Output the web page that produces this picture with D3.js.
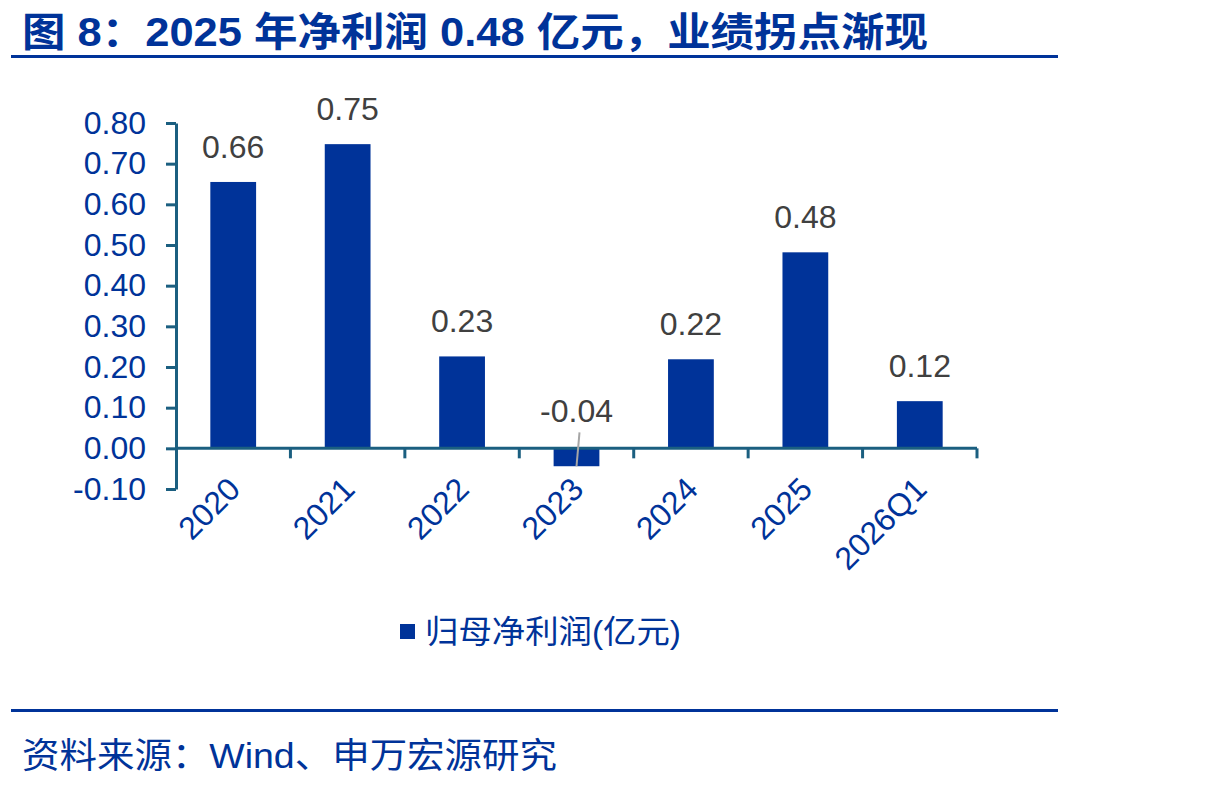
<!DOCTYPE html>
<html>
<head>
<meta charset="utf-8">
<script src="https://cdn.jsdelivr.net/npm/d3@7"></script>
<style>
  body { margin: 0; background: #fff; }
  svg text { font-family: Arial, "Liberation Sans", "Noto Sans CJK SC", sans-serif; }
</style>
</head>
<body>
<svg id="chart" width="1227" height="787"></svg>
<script>
// data
const categories = ["2020", "2021", "2022", "2023", "2024", "2025", "2026Q1"];
const profit = [0.655, 0.748, 0.226, -0.044, 0.219, 0.482, 0.116];
const profitLabels = ["0.66", "0.75", "0.23", "-0.04", "0.22", "0.48", "0.12"];
const yTicks = [-0.1, 0, 0.1, 0.2, 0.3, 0.4, 0.5, 0.6, 0.7, 0.8];
const seriesName = "归母净利润(亿元)";
const titleText = "图 8：2025 年净利润 0.48 亿元，业绩拐点渐现";
const sourceText = "资料来源：Wind、申万宏源研究";

const blue = "#003399";
const axisColor = "#1b5f80";
const labelGray = "#404040";

const svg = d3.select("#chart");

// title + rules
svg.append("text")
    .attr("x", 22).attr("y", 46)
    .attr("font-size", 40).attr("font-weight", "bold")
    .attr("textLength", 906).attr("lengthAdjust", "spacingAndGlyphs")
    .attr("fill", blue)
    .text(titleText);
svg.append("rect").attr("x", 11).attr("y", 55).attr("width", 1047).attr("height", 3).attr("fill", blue);
svg.append("rect").attr("x", 11).attr("y", 709).attr("width", 1047).attr("height", 3).attr("fill", blue);

svg.append("text")
    .attr("x", 22).attr("y", 768)
    .attr("font-size", 35)
    .attr("textLength", 535).attr("lengthAdjust", "spacingAndGlyphs")
    .attr("fill", blue)
    .text(sourceText);

// scales
const x = d3.scaleBand().domain(categories).range([176, 977]).paddingInner(0.6).paddingOuter(0.3);
const xb = d3.scaleBand().domain(categories).range([176, 977]);
const y = d3.scaleLinear().domain([-0.1, 0.8]).range([489, 123]);

// y axis
const yAxis = svg.append("g")
    .attr("transform", "translate(176,0)")
    .call(d3.axisLeft(y).tickValues(yTicks).tickFormat(d3.format(".2f")).tickSize(10).tickSizeOuter(0).tickPadding(20));
yAxis.select(".domain").attr("stroke", axisColor).attr("stroke-width", 3);
yAxis.selectAll(".tick line").attr("stroke", axisColor).attr("stroke-width", 3);
yAxis.selectAll(".tick text").attr("fill", blue).attr("font-size", 32)
    .attr("font-family", "Arial, 'Liberation Sans', sans-serif")
    .text(d => d3.format(".2f")(d).replace("−", "-"));

// bars
svg.append("g").selectAll("rect")
    .data(profit)
    .join("rect")
    .attr("x", (d, i) => x(categories[i]))
    .attr("width", x.bandwidth())
    .attr("y", d => y(Math.max(0, d)))
    .attr("height", d => Math.abs(y(d) - y(0)))
    .attr("fill", blue);

// x axis line and ticks at band boundaries
const xg = svg.append("g");
xg.append("line")
    .attr("x1", 176).attr("x2", 977)
    .attr("y1", y(0)).attr("y2", y(0))
    .attr("stroke", axisColor).attr("stroke-width", 3);
xg.selectAll(".xt")
    .data(categories)
    .join("line")
    .attr("class", "xt")
    .attr("x1", d => xb(d) + xb.bandwidth()).attr("x2", d => xb(d) + xb.bandwidth())
    .attr("y1", y(0)).attr("y2", y(0) + 10)
    .attr("stroke", axisColor).attr("stroke-width", 3);

// x labels rotated
xg.selectAll(".xl")
    .data(categories)
    .join("text")
    .attr("class", "xl")
    .attr("transform", d => `translate(${xb(d) + xb.bandwidth() / 2 - 7},${y(0) + 27}) rotate(-45)`)
    .attr("text-anchor", "end")
    .attr("dy", "0.7em")
    .attr("font-size", 32)
    .attr("fill", blue)
    .text(d => d);

// value labels
svg.append("g").selectAll("text")
    .data(profit)
    .join("text")
    .attr("x", (d, i) => x(categories[i]) + x.bandwidth() / 2)
    .attr("y", d => d >= 0 ? y(d) - 24 : y(0) - 26)
    .attr("text-anchor", "middle")
    .attr("font-size", 32)
    .attr("fill", labelGray)
    .text((d, i) => profitLabels[i]);

// leader line for the negative value
profit.forEach((d, i) => {
    if (d < 0) {
        const cx = x(categories[i]) + x.bandwidth() / 2;
        svg.append("line")
            .attr("x1", cx + 3).attr("y1", y(0) - 16)
            .attr("x2", cx).attr("y2", y(d))
            .attr("stroke", "#a6a6a6").attr("stroke-width", 2);
    }
});

// legend
const lg = svg.append("g").attr("transform", "translate(400,624)");
lg.append("rect").attr("width", 15).attr("height", 15).attr("fill", blue);
lg.append("text").attr("x", 25).attr("y", 8).attr("dy", "0.35em")
    .attr("font-size", 32).attr("fill", blue)
    .attr("textLength", 256).attr("lengthAdjust", "spacingAndGlyphs")
    .text(seriesName);
</script>
</body>
</html>
